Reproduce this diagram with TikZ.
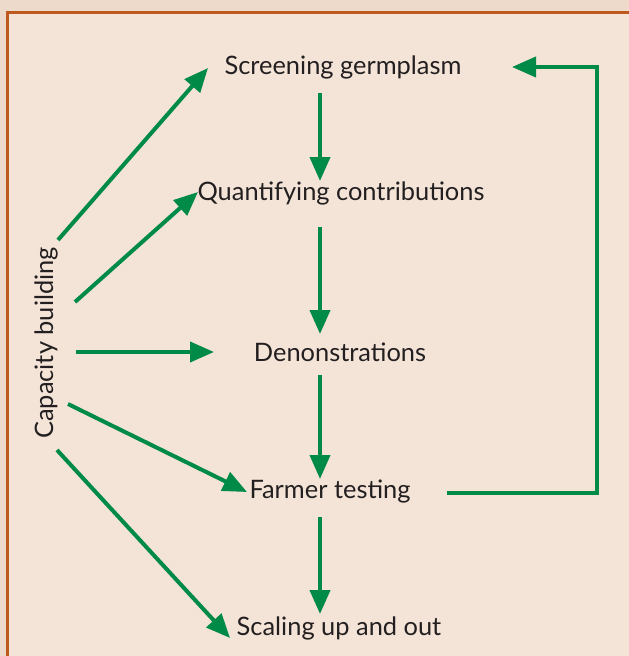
\documentclass[tikz,border=0pt]{standalone}
\usepackage{fontspec}
\setmainfont{Lato}
\usetikzlibrary{arrows.meta}
\definecolor{arrowgreen}{HTML}{008A47}
\definecolor{frameorange}{HTML}{BF5A1E}
\definecolor{outerbg}{HTML}{EEDACB}
\definecolor{innerbg}{HTML}{F4E4D8}
\definecolor{textdark}{HTML}{231F20}
\tikzset{
  lbl/.style={font=\fontsize{25.5}{30}\selectfont, text=textdark, inner sep=0pt},
  flow/.style={draw=arrowgreen, line width=4bp, -{Triangle[length=24bp,width=20bp]}},
  plainflow/.style={draw=arrowgreen, line width=4bp}
}
\begin{document}
\begin{tikzpicture}[x=1bp,y=-1bp]
\useasboundingbox (0,0) rectangle (629,656);
\fill[outerbg] (0,0) rectangle (629,656);
\fill[innerbg] (7.5,12.5) rectangle (635,662);
\draw[frameorange, line width=2.2bp] (7.5,662) -- (7.5,12.5) -- (635,12.5);

\node[lbl] (sg) at (343,67) {Screening germplasm};
\node[lbl] (qc) at (341,193) {Quantifying contributions};
\node[lbl] (dn) at (340,352) {Denonstrations};
\node[lbl] (ft) at (330,492) {Farmer testing};
\node[lbl] (su) at (339,628) {Scaling up and out};
\node[lbl, rotate=90] (cb) at (46,343) {Capacity building};

\coordinate (c1) at (58,240);
\coordinate (c2) at (75,302);
\coordinate (c3) at (76,352);
\coordinate (c4) at (68,404);
\coordinate (c5) at (57,450);

\coordinate (sgb) at (320,93);
\coordinate (qct) at (320,181);
\coordinate (qcb) at (320,227);
\coordinate (dnt) at (320,334);
\coordinate (dnb) at (320,375);
\coordinate (ftt) at (320,479);
\coordinate (ftb) at (320,517);
\coordinate (sut) at (320,614);

\draw[flow] (sgb) -- (qct);
\draw[flow] (qcb) -- (dnt);
\draw[flow] (dnb) -- (ftt);
\draw[flow] (ftb) -- (sut);

\coordinate (fbs) at (447,493);
\coordinate (fbc1) at (597,493);
\coordinate (fbc2) at (597,67);
\coordinate (fbe) at (512,67);
\draw[flow, line join=miter] (fbs) -- (fbc1) -- (fbc2) -- (fbe);

\coordinate (t1) at (208,68);
\coordinate (t2) at (198,192);
\coordinate (t3) at (214,352);
\coordinate (t4) at (247,492);
\coordinate (t5) at (230,638);
\draw[flow] (c1) -- (t1);
\draw[flow] (c2) -- (t2);
\draw[flow] (c3) -- (t3);
\draw[flow] (c4) -- (t4);
\draw[flow] (c5) -- (t5);
\end{tikzpicture}
\end{document}
